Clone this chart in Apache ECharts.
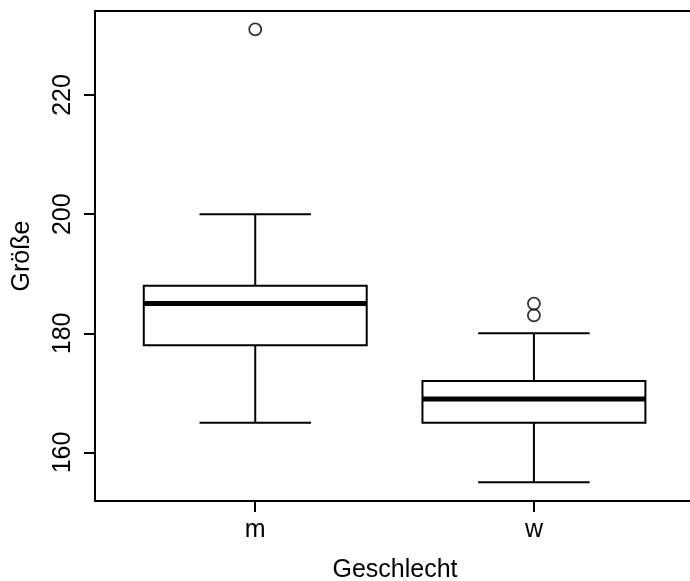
<!DOCTYPE html>
<html>
<head>
<meta charset="utf-8">
<script src="https://cdn.jsdelivr.net/npm/echarts@6/dist/echarts.min.js"></script>
<style>html,body{margin:0;padding:0;background:#fff;}#c{width:690px;height:581px;}</style>
</head>
<body>
<div id="c"></div>
<script>
// Data
const categories = ['m', 'w'];
const categoryPos = [1, 2];
const whiskerLow = [165, 155];
const q1 = [178, 165];
const median = [185, 169];
const q3 = [188, 172];
const whiskerHigh = [200, 180];
const outlierGroup = [1, 2, 2];
const outlierValue = [231, 183, 185];
const yTicks = [160, 180, 200, 220];
const xTitle = 'Geschlecht';
const yTitle = 'Größe';

const boxData = categories.map((c, i) => [categoryPos[i], whiskerLow[i], q1[i], median[i], q3[i], whiskerHigh[i]]);
const outData = outlierValue.map((v, i) => [outlierGroup[i], v]);

const FONT = '"Liberation Sans", Arial, sans-serif';
const FS = 25;
const chart = echarts.init(document.getElementById('c'), null, {renderer: 'canvas'});

function renderBox(params, api) {
  const x = api.value(0);
  const lo = api.coord([x, api.value(1)]);
  const b1 = api.coord([x, api.value(2)]);
  const md = api.coord([x, api.value(3)]);
  const b3 = api.coord([x, api.value(4)]);
  const hi = api.coord([x, api.value(5)]);
  const half = api.size([0.4, 0])[0];
  const cap = api.size([0.2, 0])[0];
  const cx = lo[0];
  const ls = {stroke: '#000', lineWidth: 2};
  return {
    type: 'group',
    children: [
      {type: 'line', shape: {x1: cx, y1: b1[1], x2: cx, y2: lo[1]}, style: ls},
      {type: 'line', shape: {x1: cx, y1: b3[1], x2: cx, y2: hi[1]}, style: ls},
      {type: 'line', shape: {x1: cx - cap, y1: lo[1], x2: cx + cap, y2: lo[1]}, style: ls},
      {type: 'line', shape: {x1: cx - cap, y1: hi[1], x2: cx + cap, y2: hi[1]}, style: ls},
      {type: 'rect', shape: {x: cx - half, y: b3[1], width: 2 * half, height: b1[1] - b3[1]}, style: {fill: '#fff', stroke: '#000', lineWidth: 2}},
      {type: 'line', shape: {x1: cx - half, y1: md[1], x2: cx + half, y2: md[1]}, style: {stroke: '#000', lineWidth: 5}}
    ]
  };
}

chart.setOption({
  backgroundColor: '#fff',
  animation: false,
  grid: {left: 95, top: 11, width: 600, bottom: 80, containLabel: false, outerBoundsMode: 'none',
    show: true, borderColor: '#000', borderWidth: 2, backgroundColor: 'transparent'},
  xAxis: {
    type: 'value', min: 0.425, max: 2.578,
    name: xTitle, nameLocation: 'middle', nameGap: 57,
    nameTextStyle: {fontFamily: FONT, fontSize: FS, color: '#000'},
    axisLine: {show: false},
    splitLine: {show: false},
    axisTick: {show: true, length: 11, lineStyle: {color: '#000', width: 2}, customValues: categoryPos},
    axisLabel: {show: true, margin: 17, fontFamily: FONT, fontSize: FS, color: '#000', customValues: categoryPos,
      formatter: v => { const i = categoryPos.indexOf(v); return i >= 0 ? categories[i] : ''; }}
  },
  yAxis: {
    type: 'value', min: 151.86, max: 234.1,
    name: yTitle, nameLocation: 'middle', nameGap: 60, nameRotate: 90,
    nameTextStyle: {fontFamily: FONT, fontSize: FS, color: '#000'},
    axisLine: {show: false},
    splitLine: {show: false},
    axisTick: {show: true, length: 11, lineStyle: {color: '#000', width: 2}, customValues: yTicks},
    axisLabel: {show: true, rotate: 90, margin: 19, fontFamily: FONT, fontSize: FS, color: '#000', customValues: yTicks}
  },
  series: [
    {type: 'custom', renderItem: renderBox, data: boxData, encode: {x: 0, y: [1, 2, 3, 4, 5]}, clip: false, z: 2},
    {type: 'scatter', data: outData, symbol: 'circle', symbolSize: 12,
      itemStyle: {color: 'rgba(255,255,255,0)', borderColor: '#000', borderWidth: 1.8}, z: 3}
  ]
});
</script>
</body>
</html>
